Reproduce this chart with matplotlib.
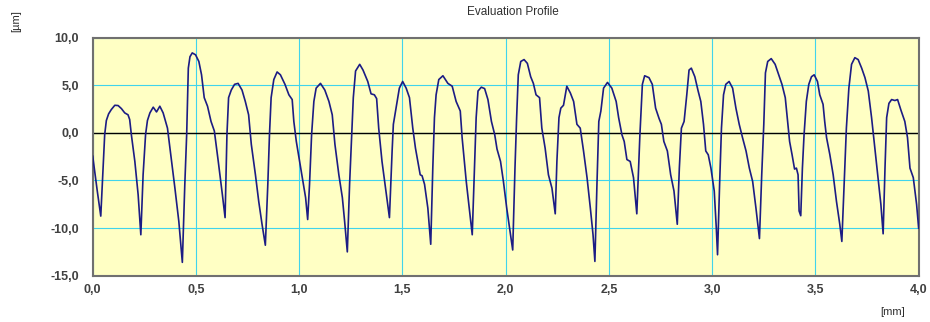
import numpy as np
import matplotlib
matplotlib.use("Agg")
import matplotlib.pyplot as plt
from matplotlib.ticker import FuncFormatter

# evaluation profile, position [mm] and height [µm]
pos_mm = [
    0.000, 0.022, 0.039, 0.050, 0.058, 0.066, 0.077, 0.090, 0.107, 0.123, 0.139, 0.155, 0.171, 0.179, 0.187, 0.204, 0.220, 0.233,
    0.244, 0.256, 0.265, 0.277, 0.293, 0.309, 0.325, 0.341, 0.362, 0.378, 0.398, 0.417, 0.434,
    0.446, 0.455, 0.463, 0.471, 0.482, 0.498, 0.514, 0.527, 0.540, 0.556, 0.573, 0.589, 0.608, 0.628, 0.641,
    0.650, 0.658, 0.671, 0.687, 0.704, 0.723, 0.739, 0.755, 0.768, 0.788, 0.804, 0.820, 0.836,
    0.848, 0.856, 0.864, 0.877, 0.893, 0.909, 0.931, 0.950, 0.966, 0.974, 0.986, 1.002, 1.018, 1.031, 1.041,
    1.050, 1.060, 1.071, 1.082, 1.103, 1.124, 1.144, 1.160, 1.173, 1.192, 1.209, 1.220, 1.233,
    1.244, 1.254, 1.262, 1.273, 1.293, 1.309, 1.332, 1.348, 1.364, 1.375, 1.385, 1.401, 1.418, 1.437,
    1.450, 1.456, 1.469, 1.485, 1.501, 1.518, 1.534, 1.550, 1.563, 1.586, 1.595, 1.607, 1.623, 1.637,
    1.647, 1.655, 1.663, 1.676, 1.696, 1.720, 1.741, 1.760, 1.780, 1.789, 1.809, 1.825, 1.838,
    1.849, 1.857, 1.866, 1.882, 1.898, 1.914, 1.931, 1.947, 1.958, 1.975, 1.989, 2.005, 2.021, 2.034,
    2.045, 2.053, 2.061, 2.073, 2.089, 2.105, 2.121, 2.134, 2.147, 2.164, 2.175, 2.191, 2.207, 2.224, 2.240,
    2.248, 2.258, 2.267, 2.280, 2.296, 2.313, 2.329, 2.345, 2.361, 2.377, 2.394, 2.410, 2.423, 2.432,
    2.442, 2.451, 2.461, 2.474, 2.493, 2.514, 2.535, 2.547, 2.563, 2.574, 2.587, 2.603, 2.619, 2.635,
    2.650, 2.662, 2.673, 2.694, 2.710, 2.726, 2.743, 2.754, 2.766, 2.783, 2.799, 2.815, 2.831,
    2.841, 2.851, 2.864, 2.877, 2.888, 2.899, 2.916, 2.932, 2.945, 2.958, 2.969, 2.981, 2.994, 3.010, 3.020, 3.026,
    3.036, 3.045, 3.055, 3.066, 3.082, 3.099, 3.115, 3.131, 3.147, 3.164, 3.180, 3.196, 3.212, 3.229,
    3.240, 3.250, 3.258, 3.269, 3.286, 3.305, 3.322, 3.338, 3.354, 3.367, 3.375, 3.387, 3.399, 3.408, 3.416, 3.421, 3.429,
    3.437, 3.445, 3.456, 3.468, 3.481, 3.494, 3.510, 3.521, 3.537, 3.545, 3.554, 3.570, 3.586, 3.602, 3.618, 3.628,
    3.639, 3.650, 3.662, 3.675, 3.691, 3.707, 3.724, 3.740, 3.756, 3.772, 3.788, 3.804, 3.817, 3.828,
    3.837, 3.845, 3.856, 3.869, 3.885, 3.898, 3.914, 3.933, 3.946, 3.958, 3.974, 3.990, 4.000,
]
height_um = [
    -2.45, -6.1, -8.74, -3.7, -0.17, 1.3, 2.0, 2.45, 2.9, 2.87, 2.55, 2.1, 1.9, 1.4, -0.17, -3.0, -6.5, -10.7,
    -4.4, -0.17, 1.3, 2.1, 2.7, 2.2, 2.8, 2.1, 0.5, -2.3, -5.8, -9.3, -13.6,
    -5.4, -0.2, 6.8, 8.0, 8.4, 8.2, 7.5, 6.1, 3.7, 2.8, 1.2, 0.2, -3.0, -6.5, -8.9,
    -0.2, 3.7, 4.5, 5.1, 5.2, 4.5, 3.3, 1.9, -1.2, -4.4, -7.2, -9.6, -11.8,
    -5.4, -0.2, 3.7, 5.6, 6.4, 6.1, 5.1, 4.0, 3.5, 1.2, -0.9, -3.0, -5.1, -6.8, -9.1,
    -5.4, -0.2, 3.3, 4.7, 5.2, 4.5, 3.3, 1.9, -1.2, -4.4, -6.8, -9.3, -12.5,
    -5.4, -0.2, 3.7, 6.5, 7.2, 6.6, 5.4, 4.1, 4.0, 3.6, 0.5, -3.0, -5.8, -8.9,
    -1.9, 0.9, 2.6, 4.7, 5.4, 4.7, 3.7, 0.5, -1.6, -4.4, -4.5, -5.4, -7.9, -11.7,
    -3.7, 1.6, 4.0, 5.6, 6.0, 5.2, 4.9, 3.3, 2.3, -0.5, -5.1, -8.2, -10.7,
    -3.7, 1.6, 4.4, 4.8, 4.65, 3.5, 1.2, -0.2, -1.7, -3.0, -5.1, -7.9, -10.3, -12.3,
    -3.7, 1.6, 6.1, 7.5, 7.7, 7.3, 5.9, 5.2, 4.0, 3.7, 0.5, -1.6, -4.4, -5.8, -8.5,
    -3.0, 1.6, 2.6, 2.9, 4.9, 4.2, 3.3, 0.9, 0.5, -1.9, -4.7, -7.9, -10.7, -13.5,
    -5.4, 1.2, 2.3, 4.7, 5.3, 4.7, 3.3, 1.6, -0.2, -0.9, -2.8, -3.0, -4.7, -8.5,
    -0.2, 5.1, 6.0, 5.8, 5.1, 2.6, 1.5, 0.9, -0.9, -1.9, -4.4, -6.1, -9.6,
    -3.7, 0.5, 1.2, 4.0, 6.6, 6.8, 5.9, 4.4, 3.3, 0.9, -1.9, -2.3, -3.7, -6.1, -10.0, -12.8,
    -5.4, 0.5, 4.0, 5.1, 5.4, 4.7, 2.6, 0.9, -0.5, -1.9, -3.7, -5.1, -7.9, -11.1,
    -4.4, 0.9, 6.3, 7.5, 7.8, 7.2, 6.1, 5.1, 3.7, 0.9, -0.9, -2.3, -3.8, -3.7, -4.4, -8.2, -8.7,
    -3.7, -0.2, 3.3, 5.1, 5.9, 6.1, 5.4, 4.0, 3.0, 1.2, -0.5, -2.3, -4.4, -7.2, -9.6, -11.4,
    -5.4, 0.5, 4.7, 7.2, 7.9, 7.7, 6.8, 5.8, 4.4, 1.6, -1.6, -4.7, -7.5, -10.6,
    -3.7, 1.6, 3.1, 3.5, 3.4, 3.5, 2.4, 1.2, -0.5, -3.7, -4.7, -7.5, -10.0,
]

x_ticks = [0.0, 0.5, 1.0, 1.5, 2.0, 2.5, 3.0, 3.5, 4.0]
y_ticks = [-15, -10, -5, 0, 5, 10]

plt.rcParams['font.family'] = ['Liberation Sans', 'DejaVu Sans']

fig = plt.figure(figsize=(9.3, 3.22), dpi=100)
ax = fig.add_axes([0.0997, 0.1438, 0.8881, 0.7392])
ax.set_facecolor('#ffffc4')

ax.set_xlim(0, 4.0)
ax.set_ylim(-15, 10)
ax.set_xticks(x_ticks)
ax.set_yticks(y_ticks)

comma = FuncFormatter(lambda v, p: f"{v:.1f}".replace('.', ','))
ax.xaxis.set_major_formatter(comma)
ax.yaxis.set_major_formatter(comma)

ax.grid(True, color='#40d4ec', lw=0.8, zorder=1)
ax.axhline(0, color='black', lw=1.0, zorder=2)
ax.plot(pos_mm, height_um, color='#1c1c84', lw=1.2, zorder=3)

ax.tick_params(length=0, labelsize=9, labelcolor='#404040')
ax.tick_params(axis='y', pad=10)
ax.tick_params(axis='x', pad=6)
for lab in ax.get_xticklabels() + ax.get_yticklabels():
    lab.set_fontweight('bold')

for sp in ax.spines.values():
    sp.set_color('#707070')
    sp.set_linewidth(1.5)

fig.text(0.552, 0.962, "Evaluation Profile", ha='center', va='center',
         fontsize=8.5, color='#303030')
fig.text(0.017, 0.935, "[µm]", ha='center', va='center', rotation=90,
         fontsize=8, color='#303030')
fig.text(0.960, 0.030, "[mm]", ha='center', va='center',
         fontsize=8, color='#303030')

fig.savefig("out.png", dpi=100)
